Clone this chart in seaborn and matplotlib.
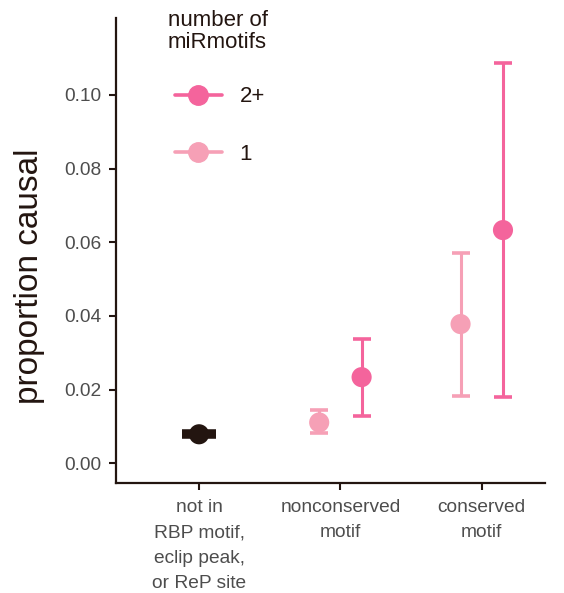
import pandas as pd
import numpy as np
import seaborn as sns
import matplotlib.pyplot as plt
from matplotlib.lines import Line2D

# --- data ---
categories = ['not in\nRBP motif,\neclip peak,\nor ReP site',
              'nonconserved\nmotif', 'conserved\nmotif']
groups = ['none', '1', '2+', '1', '2+']
cat_index = [0, 1, 1, 2, 2]
est = [0.0079, 0.0111, 0.0234, 0.0378, 0.0633]
lower = [0.0074, 0.0082, 0.0128, 0.0182, 0.0179]
upper = [0.0084, 0.0144, 0.0337, 0.0571, 0.1087]
legend_labels = ['2+', '1']

palette = {'none': '#231510', '1': '#F6A0B6', '2+': '#F4649C'}
offsets = {'none': 0.0, '1': -0.15, '2+': 0.15}
capsizes = {'none': 12.5, '1': 6.5, '2+': 6.5}

df = pd.DataFrame({'cat': cat_index, 'group': groups, 'est': est,
                   'lo': lower, 'hi': upper})
df['x'] = df['cat'] + df['group'].map(offsets)

sns.set_theme(style="ticks")
plt.rcParams['font.family'] = ['Liberation Sans', 'DejaVu Sans']
dark = '#231510'

fig, ax = plt.subplots(figsize=(5.64, 5.93), dpi=100)
fig.subplots_adjust(left=0.205, right=0.967, top=0.97, bottom=0.185)

for _, r in df.iterrows():
    ax.errorbar(r['x'], r['est'], yerr=[[r['est'] - r['lo']], [r['hi'] - r['est']]],
                fmt='none', ecolor=palette[r['group']], elinewidth=2.2,
                capsize=capsizes[r['group']], capthick=2.6 if r['group'] != 'none' else 4.0)
sns.scatterplot(data=df, x='x', y='est', hue='group', palette=palette,
                s=210, edgecolor='none', legend=False, ax=ax, zorder=3)

ax.set_xlim(-0.59, 2.45)
ax.set_ylim(-0.0054, 0.1209)
ax.set_xticks(range(len(categories)))
ax.set_xticklabels(categories, linespacing=1.66)
ax.set_yticks([0, 0.02, 0.04, 0.06, 0.08, 0.10])
ax.set_yticklabels([f'{v:.2f}' for v in [0, 0.02, 0.04, 0.06, 0.08, 0.10]])
ax.set_xlabel('')
ax.set_ylabel('proportion causal', fontsize=24, color=dark)
ax.yaxis.set_label_coords(-0.165, 0.445)
ax.tick_params(axis='both', labelsize=13.8, labelcolor='#4d4d4d', color=dark,
               length=5, width=1.5, pad=5)
ax.tick_params(axis='x', pad=6)
for s in ['left', 'bottom']:
    ax.spines[s].set_color(dark)
    ax.spines[s].set_linewidth(1.6)
sns.despine(ax=ax)

# legend title drawn separately so it can sit left of the keys
fig.text(168 / 564, 1 - 10 / 593, 'number of\nmiRmotifs', ha='left', va='top',
         fontsize=16, color=dark, linespacing=1.05)
handles = [Line2D([0], [0], color=palette[g], marker='o', markersize=14,
                  lw=2.6) for g in legend_labels]
leg = ax.legend(handles, legend_labels, loc='upper left',
                bbox_to_anchor=(170.6 / 564, 1 - 82 / 593),
                bbox_transform=fig.transFigure, borderaxespad=0, frameon=False,
                fontsize=16, handlelength=2.1, labelspacing=1.64,
                handletextpad=0.8, borderpad=0.2)
for t in leg.get_texts():
    t.set_color(dark)

plt.savefig('out.png', dpi=100)
